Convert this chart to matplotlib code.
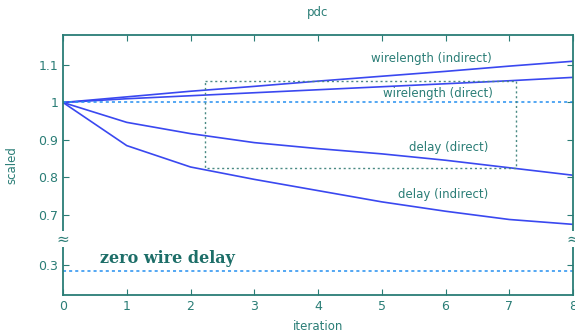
import numpy as np
import matplotlib
matplotlib.use('Agg')
import matplotlib.pyplot as plt

# data
iteration = [0, 1, 2, 3, 4, 5, 6, 7, 8]
wl_indirect = [1.0, 1.015, 1.030, 1.043, 1.057, 1.070, 1.083, 1.097, 1.110]
wl_direct = [1.0, 1.010, 1.018, 1.026, 1.034, 1.042, 1.050, 1.058, 1.067]
delay_direct = [1.0, 0.947, 0.917, 0.893, 0.877, 0.863, 0.846, 0.826, 0.806]
delay_indirect = [1.0, 0.885, 0.828, 0.795, 0.765, 0.735, 0.710, 0.688, 0.675]
zero_wire_delay = 0.284
box_x = [2.23, 7.1]
box_y = [0.826, 1.057]
yticks = [0.3, 0.7, 0.8, 0.9, 1.0, 1.1]
yticklabels = ['0.3', '0.7', '0.8', '0.9', '1', '1.1']

# broken y axis: the gap 0.367..0.633 is squeezed out
lo, hi = 0.3667, 0.6333
shift = hi - lo


def fwd(y):
    y = np.asarray(y, dtype=float)
    return np.where(y >= hi, y, np.where(y <= lo, y + shift, hi))


def inv(t):
    t = np.asarray(t, dtype=float)
    return np.where(t >= hi, t, t - shift)


teal = '#2a7d76'
blue = '#3a48f0'
cyan = '#2590f0'

fig = plt.figure(figsize=(5.75, 3.32), dpi=100)
ax = fig.add_axes([0.1096, 0.1114, 0.887, 0.7832])
ax.set_yscale('function', functions=(fwd, inv))

ax.plot(iteration, wl_indirect, color=blue, lw=1.2)
ax.plot(iteration, wl_direct, color=blue, lw=1.2)
ax.plot(iteration, delay_direct, color=blue, lw=1.2)
ax.plot(iteration, delay_indirect, color=blue, lw=1.2)
ax.axhline(1.0, color=cyan, lw=1.1, ls=(0, (2, 2)))
ax.axhline(zero_wire_delay, color=cyan, lw=1.1, ls=(0, (2, 2)))
ax.plot([box_x[0], box_x[1], box_x[1], box_x[0], box_x[0]],
        [box_y[1], box_y[1], box_y[0], box_y[0], box_y[1]],
        color='#4a8a84', lw=1.0, ls=(0, (1.5, 2)))

lab = dict(color=teal, fontsize=8.5, ha='center', va='center')
ax.text(5.77, 1.117, 'wirelength (indirect)', **lab)
ax.text(5.88, 1.024, 'wirelength (direct)', **lab)
ax.text(6.05, 0.880, 'delay (direct)', **lab)
ax.text(5.96, 0.755, 'delay (indirect)', **lab)
ax.text(0.58, 0.318, 'zero wire delay', color='#1d6e68', fontsize=11.5,
        family='DejaVu Serif', weight='bold', ha='left', va='center')

ax.set_xlim(0, 8)
ax.set_ylim(0.22, 1.18)
ax.set_xticks(iteration)
ax.set_yticks(yticks)
ax.set_yticklabels(yticklabels)
ax.tick_params(direction='in', top=True, right=True, colors=teal,
               labelsize=9, length=4)
for s in ax.spines.values():
    s.set_color(teal)
    s.set_linewidth(1.3)

# break marks on both spines
for xs in (0, 1):
    ax.text(xs, 0.636, '\u2248', transform=ax.get_yaxis_transform(),
            ha='center', va='center', fontsize=11, color=teal,
            bbox=dict(fc='white', ec='none', pad=0.1), clip_on=False)

ax.set_title('pdc', color=teal, fontsize=8.5, pad=14)
ax.set_xlabel('iteration', color=teal, fontsize=8.5, labelpad=5)
ax.set_ylabel('scaled', color=teal, fontsize=8.5, labelpad=14)

fig.savefig('out.png', dpi=100)
